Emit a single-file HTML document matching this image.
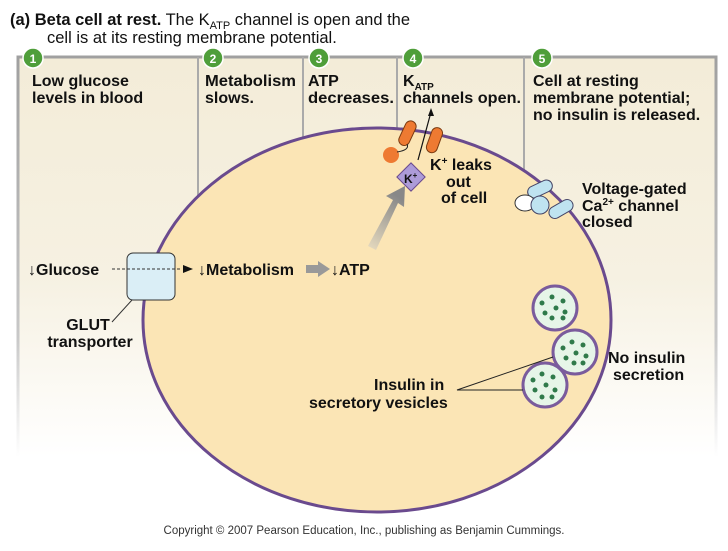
<!DOCTYPE html>
<html><head><style>
body{margin:0;background:#fff;}
svg text{font-family:"Liberation Sans",Arial,sans-serif;font-weight:bold;fill:#111;}
</style></head><body>
<svg width="728" height="546" viewBox="0 0 728 546" xmlns="http://www.w3.org/2000/svg">
<defs>
<linearGradient id="bg" x1="0" y1="0" x2="0" y2="1">
<stop offset="0" stop-color="#f3ecd8"/><stop offset="0.55" stop-color="#f6f1e2"/><stop offset="1" stop-color="#ffffff"/>
</linearGradient>
<linearGradient id="ln" x1="0" y1="0" x2="0" y2="1">
<stop offset="0" stop-color="#a0a0a0"/><stop offset="0.7" stop-color="#c8c8c8"/><stop offset="1" stop-color="#ffffff"/>
</linearGradient>
<linearGradient id="ga" x1="0" y1="1" x2="0.4" y2="0">
<stop offset="0" stop-color="#e8dcc0"/><stop offset="1" stop-color="#888"/>
</linearGradient>
</defs>
<text x="10" y="25" font-size="16.5">(a) Beta cell at rest.<tspan style="font-weight:normal"> The K</tspan><tspan style="font-weight:normal" font-size="11" dy="4">ATP</tspan><tspan style="font-weight:normal" dy="-4"> channel is open and the</tspan></text>
<text x="47" y="43" font-size="16.5" style="font-weight:normal">cell is at its resting membrane potential.</text>
<rect x="18" y="57" width="698" height="400" fill="url(#bg)"/>
<path d="M18 457 V57 H716 V457" fill="none" stroke="url(#ln)" stroke-width="3"/>
<g stroke="#aaa" stroke-width="2">
<line x1="198" y1="57" x2="198" y2="200"/><line x1="303" y1="57" x2="303" y2="150"/>
<line x1="397" y1="57" x2="397" y2="135"/><line x1="524" y1="57" x2="524" y2="185"/>
</g>
<g fill="#4f9e3a" stroke="#fff" stroke-width="1.5">
<circle cx="33" cy="58" r="10"/><circle cx="213" cy="58" r="10"/><circle cx="319" cy="58" r="10"/><circle cx="413" cy="58" r="10"/><circle cx="542" cy="58" r="10"/>
</g>
<g font-size="12" text-anchor="middle">
<text x="33" y="63" style="fill:#fff">1</text><text x="213" y="63" style="fill:#fff">2</text><text x="319" y="63" style="fill:#fff">3</text><text x="413" y="63" style="fill:#fff">4</text><text x="542" y="63" style="fill:#fff">5</text>
</g>
<g font-size="16">
<text x="32" y="86">Low glucose</text><text x="32" y="103">levels in blood</text>
<text x="205" y="86" textLength="91" lengthAdjust="spacingAndGlyphs">Metabolism</text><text x="205" y="103">slows.</text>
<text x="308" y="86">ATP</text><text x="308" y="103" textLength="86" lengthAdjust="spacingAndGlyphs">decreases.</text>
<text x="403" y="86">K<tspan font-size="10" dy="4">ATP</tspan></text><text x="403" y="103" textLength="118" lengthAdjust="spacingAndGlyphs">channels open.</text>
<text x="533" y="86">Cell at resting</text><text x="533" y="103">membrane potential;</text><text x="533" y="120">no insulin is released.</text>
</g>
<ellipse cx="377" cy="320" rx="234" ry="192" fill="#fbe5b5" stroke="#6a4a8e" stroke-width="3"/>
<rect x="402" y="120" width="11" height="26" rx="5.5" fill="#ee7a32" stroke="#7a3a10" stroke-width="1" transform="rotate(25 407 133)"/>
<rect x="429" y="127" width="11" height="26" rx="5.5" fill="#ee7a32" stroke="#7a3a10" stroke-width="1" transform="rotate(20 434 140)"/>
<circle cx="391" cy="155" r="8" fill="#ee7a32"/>
<path d="M397 152 Q410 150 407 144" fill="none" stroke="#222"/>
<path d="M418 160 L431 112" stroke="#111" stroke-width="1.2"/>
<path d="M431 108 L428 116 L434 116Z" fill="#111"/>
<rect x="401" y="167" width="20" height="20" fill="#ad9bd8" stroke="#6a4a8e" transform="rotate(45 411 177)"/>
<text x="404" y="183" font-size="12">K<tspan font-size="8" dy="-5">+</tspan></text>
<text x="430" y="170" font-size="16">K<tspan font-size="10" dy="-6">+</tspan><tspan dy="6"> leaks</tspan></text>
<text x="446" y="187" font-size="16">out</text><text x="441" y="203" font-size="16">of cell</text>
<rect x="527" y="183" width="26" height="12" rx="6" fill="#bfe3f0" stroke="#446" transform="rotate(-25 540 189)"/>
<ellipse cx="525" cy="203" rx="10" ry="8" fill="#fff" stroke="#333"/>
<circle cx="540" cy="205" r="9" fill="#bfe3f0" stroke="#446"/>
<rect x="548" y="203" width="26" height="12" rx="6" fill="#bfe3f0" stroke="#446" transform="rotate(-30 561 209)"/>
<g font-size="16"><text x="582" y="194">Voltage-gated</text><text x="582" y="211">Ca<tspan font-size="10" dy="-6">2+</tspan><tspan dy="6"> channel</tspan></text><text x="582" y="227">closed</text></g>
<path d="M368 246 L393 200 L386 196 L405 186 L404 207 L398 203 L376 250Z" fill="url(#ga)"/>
<rect x="127" y="253" width="48" height="47" rx="6" fill="#daeef6" stroke="#333"/>
<line x1="112" y1="269" x2="180" y2="269" stroke="#333" stroke-dasharray="3,2"/>
<path d="M183 265 L193 269 L183 273Z" fill="#111"/>
<text x="28" y="275" font-size="16">↓Glucose</text>
<text x="198" y="275" font-size="16">↓Metabolism</text>
<path d="M306 265 H318 V261 L330 269 L318 277 V273 H306Z" fill="#999"/>
<text x="331" y="275" font-size="16">↓ATP</text>
<line x1="132" y1="300" x2="112" y2="322" stroke="#333"/>
<text x="88" y="330" font-size="16" text-anchor="middle">GLUT</text>
<text x="90" y="347" font-size="16" text-anchor="middle">transporter</text>
<g fill="#e6f5e8" stroke="#7a5b9c" stroke-width="3">
<circle cx="555" cy="308" r="22"/><circle cx="575" cy="352" r="22"/><circle cx="545" cy="385" r="22"/>
</g>
<g fill="#2f7a4a">
<circle cx="542" cy="303" r="2.5"/><circle cx="552" cy="297" r="2.5"/><circle cx="563" cy="301" r="2.5"/><circle cx="556" cy="308" r="2.5"/><circle cx="545" cy="313" r="2.5"/><circle cx="565" cy="312" r="2.5"/><circle cx="552" cy="318" r="2.5"/><circle cx="563" cy="318" r="2.5"/>
<circle cx="563" cy="348" r="2.5"/><circle cx="572" cy="342" r="2.5"/><circle cx="583" cy="345" r="2.5"/><circle cx="576" cy="353" r="2.5"/><circle cx="586" cy="356" r="2.5"/><circle cx="566" cy="358" r="2.5"/><circle cx="574" cy="363" r="2.5"/><circle cx="583" cy="363" r="2.5"/>
<circle cx="533" cy="380" r="2.5"/><circle cx="542" cy="374" r="2.5"/><circle cx="553" cy="377" r="2.5"/><circle cx="546" cy="385" r="2.5"/><circle cx="535" cy="390" r="2.5"/><circle cx="555" cy="390" r="2.5"/><circle cx="542" cy="397" r="2.5"/><circle cx="552" cy="397" r="2.5"/>
</g>
<path d="M553 357 L457 390 L523 390" fill="none" stroke="#222"/>
<g font-size="16"><text x="374" y="390">Insulin in</text><text x="309" y="408">secretory vesicles</text>
<text x="608" y="363">No insulin</text><text x="613" y="380">secretion</text></g>
<text x="364" y="534" font-size="11.5" text-anchor="middle" style="font-weight:normal;fill:#333">Copyright © 2007 Pearson Education, Inc., publishing as Benjamin Cummings.</text>
</svg>
</body></html>
